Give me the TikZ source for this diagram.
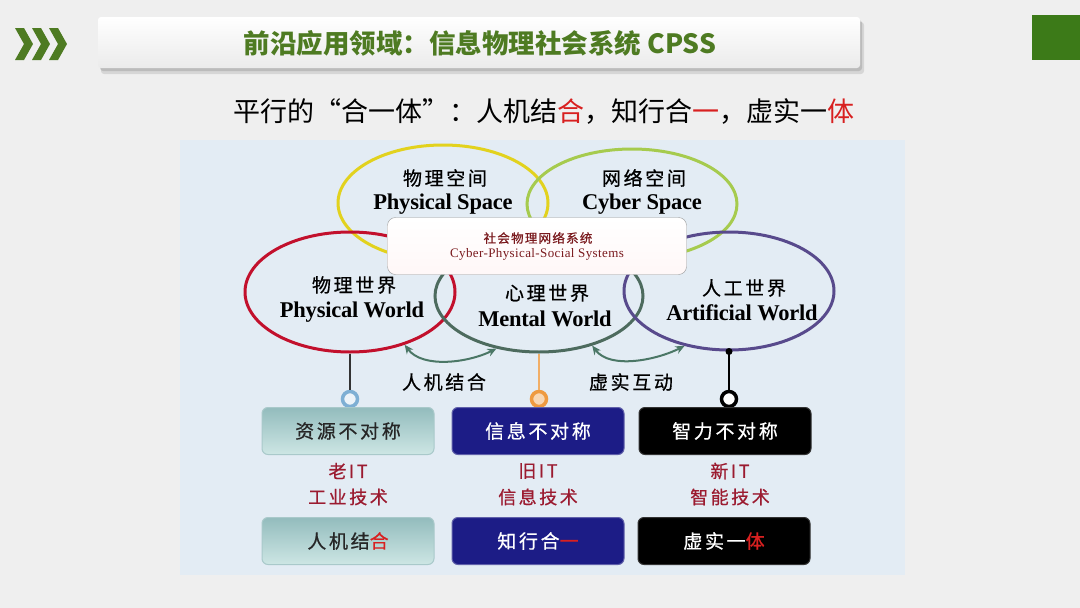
\documentclass[tikz,border=0pt]{standalone}
\usepackage{fontspec}
\setmainfont{Liberation Serif}
\newfontfamily\cjk{Noto Sans CJK SC}
\newfontfamily\cjkm[FakeBold=0.6]{Noto Sans CJK SC}
\usetikzlibrary{shapes.geometric,arrows.meta}
\definecolor{bgc}{HTML}{EFEFEF}
\definecolor{titlegreen}{HTML}{4E7B22}
\definecolor{sqgreen}{HTML}{3C7A18}
\definecolor{panel}{HTML}{E3ECF4}
\definecolor{ylw}{HTML}{E2D21E}
\definecolor{lgrn}{HTML}{A6CB4E}
\definecolor{redc}{HTML}{C2102C}
\definecolor{teal}{HTML}{4D6B5E}
\definecolor{purp}{HTML}{584A8C}
\definecolor{arrc}{HTML}{4B7766}
\definecolor{darkred}{HTML}{7A1A1E}
\definecolor{labred}{HTML}{9B1B30}
\definecolor{hired}{HTML}{D82020}
\definecolor{tealtop}{HTML}{93BCBD}
\definecolor{tealbot}{HTML}{CDE6E4}
\definecolor{navy}{HTML}{1C1C86}
\definecolor{ringblue}{HTML}{7EAFD4}
\definecolor{ringor}{HTML}{EE9A40}
\begin{document}
\begin{tikzpicture}[x=1pt,y=-1pt,
  ell/.style={ellipse, draw, line width=3pt, minimum width=210pt, minimum height=116pt, inner sep=0pt},
  zh/.style={font=\cjkm\addfontfeature{LetterSpace=14}\fontsize{19}{22}\selectfont, inner sep=0pt},
  en/.style={font=\bfseries\addfontfeature{LetterSpace=-1}\fontsize{22.5}{24}\selectfont, inner sep=0pt},
  boxbase/.style={rounded corners=6pt, minimum width=172pt, minimum height=47pt, inner sep=0pt, font=\cjkm\addfontfeature{LetterSpace=14}\fontsize{19}{22}\selectfont},
  tealbox/.style={boxbase, top color=tealtop, bottom color=tealbot, draw=tealtop!80!white, line width=1pt, text=black!85},
  bluebox/.style={boxbase, fill=navy, draw=navy!70!white, line width=1pt, text=white},
  blackbox/.style={boxbase, fill=black, draw=black!80, line width=1pt, text=white},
  redlab/.style={font=\cjkm\addfontfeature{LetterSpace=14}\fontsize{18}{20}\selectfont, text=labred, inner sep=0pt},
  ring/.style={circle, minimum size=15pt, inner sep=0pt, line width=3.5pt},
  arr/.style={draw=arrc, line width=2pt, {Stealth[length=9pt,width=8pt]}-{Stealth[length=9pt,width=8pt]}},
]
\useasboundingbox (0,0) rectangle (1080,608);
\fill[bgc] (0,0) rectangle (1080,608);
% chevrons
\foreach \x in {15,32,49}{
  \fill[titlegreen] (\x,28) -- (\x+9,28) -- (\x+18,44) -- (\x+9,60) -- (\x,60) -- (\x+9,44) -- cycle;
}
% title bar with shadow
\fill[black,opacity=0.10,rounded corners=3pt] (101,22) rectangle (864,74);
\fill[black,opacity=0.12,rounded corners=3pt] (100,20) rectangle (862,71);
\shade[top color=white, bottom color=black!8, rounded corners=3pt] (98,17) rectangle (860,68);
\node[font=\cjk\bfseries\fontsize{26.5}{28}\selectfont, text=titlegreen, inner sep=0pt] (title) at (480,43) {前沿应用领域：信息物理社会系统 CPSS};
\fill[sqgreen] (1032,15) rectangle (1080,60);
% subtitle
\node[font=\cjk\fontsize{27}{30}\selectfont, inner sep=0pt] (sub) at (544,112)
  {平行的“合一体”：人机结{\color{hired}合}，知行合{\color{hired}一}，虚实一{\color{hired}体}};
% panel
\fill[panel] (180,140) rectangle (905,575);
% ellipses
\node[ell, draw=ylw] (ps) at (443,203) {};
\node[ell, draw=lgrn, minimum height=110pt] (cs) at (632,204) {};
\node[ell, draw=redc, minimum height=120pt] (pw) at (350,292) {};
\node[ell, draw=teal, minimum width=208pt, minimum height=112pt] (mw) at (539,296) {};
\node[ell, draw=purp, minimum height=118pt] (aw) at (729,291) {};
% ellipse labels
\node[zh] (psz) at (445,178) {物理空间};
\node[en] (pse) at (443,204) {Physical Space};
\node[zh] (csz) at (644,178) {网络空间};
\node[en] (cse) at (642,204) {Cyber Space};
\node[zh] (pwz) at (354,285) {物理世界};
\node[en] (pwe) at (352,312) {Physical World};
\node[zh] (mwz) at (547,293) {心理世界};
\node[en] (mwe) at (545,319) {Mental World};
\node[zh] (awz) at (744,288) {人工世界};
\node[en] (awe) at (742,313) {Artificial World};
% center box
\node[rounded corners=8pt, draw=black!40, top color=white, bottom color=red!3!white, minimum width=299pt, minimum height=57pt, inner sep=0pt] (cpss) at (537,246) {};
\node[font=\cjkm\addfontfeature{LetterSpace=10}\fontsize{12.5}{14}\selectfont, text=darkred, inner sep=0pt] (cpssz) at (538,238) {社会物理网络系统};
\node[font=\addfontfeature{LetterSpace=3}\fontsize{13}{14}\selectfont, text=darkred, inner sep=0pt] (cpsse) at (537,254) {Cyber-Physical-Social Systems};
% curved arrows
\draw[arr] (pw.-44) .. controls +(18,24) and +(-28,14) .. (mw.-129);
\draw[arr] (mw.-43) .. controls +(18,24) and +(-28,14) .. (aw.-129);
\node[zh] (hm) at (444,382) {人机结合};
\node[zh] (xs) at (631,382) {虚实互动};
% rings
\node[ring, draw=ringblue, fill=ringblue!15!white] (r1) at (350,399) {};
\node[ring, draw=ringor, fill=ringor!40!white] (r2) at (539,399) {};
\node[ring, draw=black, fill=white] (r3) at (729,399) {};
\draw[black!80, line width=2pt] (pw.south) -- (r1.north);
\draw[ringor!80!white, line width=2pt] (mw.south) -- (r2.north);
\draw[black, line width=2pt] (aw.south) -- (r3.north);
\fill[black] (aw.south) circle (3.5pt);
% row 1 boxes
\node[tealbox] (b1) at (348,431) {资源不对称};
\node[bluebox] (b2) at (538,431) {信息不对称};
\node[blackbox] (b3) at (725,431) {智力不对称};
% red labels
\node[redlab] (l1a) at (348,471) {老IT};
\node[redlab] (l1b) at (348,497) {工业技术};
\node[redlab] (l2a) at (538,471) {旧IT};
\node[redlab] (l2b) at (538,497) {信息技术};
\node[redlab] (l3a) at (730,471) {新IT};
\node[redlab] (l3b) at (730,497) {智能技术};
% row 2 boxes
\node[tealbox] (c1) at (348,541) {人机结{\color{hired}合}};
\node[bluebox] (c2) at (538,541) {知行合{\color{hired}一}};
\node[blackbox] (c3) at (724,541) {虚实一{\color{hired}体}};
\end{tikzpicture}
\end{document}
